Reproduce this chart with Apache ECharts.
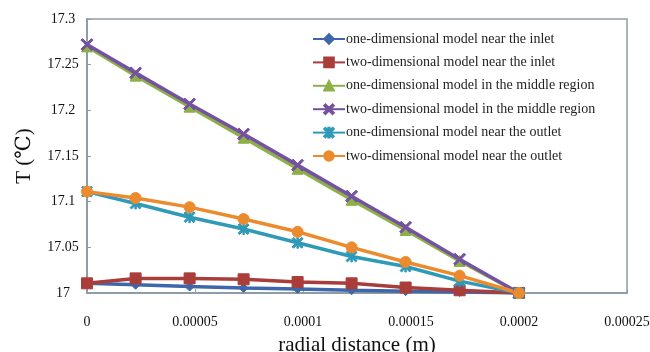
<!DOCTYPE html>
<html>
<head>
    <meta charset="utf-8">
    <title>T vs radial distance</title>
    <script src="https://cdn.jsdelivr.net/npm/echarts@6/dist/echarts.min.js"></script>
</head>
<body style="margin:0;background-color:#fff;">
    <div id="main" style="width:650px;height:352px;"></div>
    <script type="text/javascript">
        // radial positions (m)
        var radius = [0, 0.0000225, 0.0000475, 0.0000725, 0.0000975, 0.0001225, 0.0001475, 0.0001725, 0.0002];

        // temperatures
        var oneInlet   = [17.0106, 17.009, 17.007, 17.0055, 17.0045, 17.003, 17.002, 17.001, 17.0];
        var twoInlet   = [17.0106, 17.016, 17.016, 17.015, 17.012, 17.0106, 17.006, 17.003, 17.0];
        var oneMiddle  = [17.270, 17.238, 17.204, 17.170, 17.136, 17.102, 17.069, 17.035, 17.0];
        var twoMiddle  = [17.272, 17.241, 17.207, 17.174, 17.140, 17.106, 17.072, 17.037, 17.0];
        var oneOutlet  = [17.111, 17.098, 17.083, 17.070, 17.055, 17.040, 17.029, 17.013, 17.0];
        var twoOutlet  = [17.111, 17.104, 17.094, 17.081, 17.067, 17.050, 17.034, 17.019, 17.0];

        var names = [
            'one-dimensional model near the inlet',
            'two-dimensional model near the inlet',
            'one-dimensional model in the middle region',
            'two-dimensional model in the middle region',
            'one-dimensional model near the outlet',
            'two-dimensional model near the outlet'
        ];

        var xTickLabels = ['0', '0.00005', '0.0001', '0.00015', '0.0002', '0.00025'];

        var colors = ['#3D67AA', '#AA3D3A', '#8DB147', '#7551A2', '#2E9AB8', '#EC8A2E'];

        // marker shapes
        var crossPath = 'path://M0,1.3 L1.3,0 L10,8.7 L8.7,10 Z M8.7,0 L10,1.3 L1.3,10 L0,8.7 Z';
        var starPath = 'path://M0,1.3 L1.3,0 L10,8.7 L8.7,10 Z M8.7,0 L10,1.3 L1.3,10 L0,8.7 Z M4.35,0 L5.65,0 L5.65,10 L4.35,10 Z';

        function pairs(ys) {
            return radius.map(function (r, i) { return [r, ys[i]]; });
        }

        function makeSeries(i, ys, symbol, size, borderColor) {
            return {
                name: names[i],
                type: 'line',
                data: pairs(ys),
                symbol: symbol,
                symbolSize: size,
                lineStyle: { color: colors[i], width: 3.5 },
                itemStyle: { color: colors[i], borderColor: borderColor || colors[i], borderWidth: 1 },
                emphasis: { disabled: true }
            };
        }

        var myChart = echarts.init(document.getElementById('main'));

        var serif = '"Liberation Serif", "DejaVu Serif", serif';

        var option = {
            animation: false,
            color: colors,
            grid: {
                left: 87,
                right: 23,
                top: 19,
                bottom: 59,
                outerBoundsMode: 'none',
                containLabel: false,
                show: true,
                borderColor: '#8E9CA6',
                borderWidth: 1.5
            },
            legend: {
                orient: 'vertical',
                left: 307,
                top: 27,
                itemWidth: 32,
                itemHeight: 12,
                itemGap: 9.4,
                data: names,
                textStyle: { fontFamily: serif, fontSize: 14, color: '#222', padding: [0, 0, 0, -4] }
            },
            xAxis: {
                type: 'value',
                min: 0,
                max: 0.00025,
                interval: 0.00005,
                name: 'radial distance (m)',
                nameLocation: 'middle',
                nameGap: 42,
                nameTextStyle: { fontFamily: serif, fontSize: 21, color: '#111' },
                axisLine: { lineStyle: { color: '#8E9CA6', width: 2 } },
                axisTick: { inside: true, length: 4, lineStyle: { color: '#8E9CA6' } },
                splitLine: { show: false },
                axisLabel: {
                    margin: 22,
                    fontFamily: serif,
                    fontSize: 14,
                    color: '#111',
                    formatter: function (v) { return xTickLabels[Math.round(v / 0.00005)]; }
                }
            },
            yAxis: {
                type: 'value',
                min: 17,
                max: 17.3,
                interval: 0.05,
                name: 'T (℃)',
                nameLocation: 'middle',
                nameGap: 52,
                nameRotate: 90,
                nameTextStyle: { fontFamily: serif, fontSize: 21, color: '#111' },
                axisLine: { show: true, lineStyle: { color: '#8E9CA6', width: 2 } },
                axisTick: { show: true, inside: true, length: 4, lineStyle: { color: '#8E9CA6' } },
                splitLine: { show: false },
                axisLabel: {
                    align: 'center',
                    margin: 24,
                    fontFamily: serif,
                    fontSize: 14,
                    color: '#111'
                }
            },
            series: [
                makeSeries(0, oneInlet, 'diamond', 9, '#3D67AA'),
                makeSeries(1, twoInlet, 'rect', 11),
                makeSeries(2, oneMiddle, 'triangle', 11),
                makeSeries(3, twoMiddle, crossPath, 12),
                makeSeries(4, oneOutlet, starPath, 11),
                makeSeries(5, twoOutlet, 'circle', 11)
            ]
        };

        myChart.setOption(option);
    </script>
</body>
</html>
